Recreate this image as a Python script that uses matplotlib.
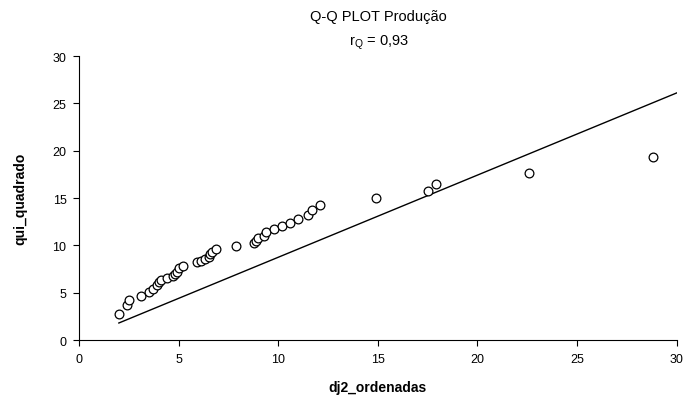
import matplotlib
matplotlib.use("Agg")
import matplotlib.pyplot as plt

plt.rcParams['font.family'] = ['Liberation Sans', 'DejaVu Sans']

# dados
dj2_ordenadas = [2.0, 2.4, 2.5, 3.1, 3.5, 3.7, 3.9, 4.0, 4.1, 4.4,
                 4.7, 4.8, 4.9, 5.0, 5.2, 5.9, 6.1, 6.3, 6.5, 6.6,
                 6.7, 6.9, 7.9, 8.8, 8.9, 9.0, 9.3, 9.4, 9.8, 10.2,
                 10.6, 11.0, 11.5, 11.7, 12.1, 14.9, 17.5, 17.9, 22.6, 28.8]
qui_quadrado = [2.8, 3.7, 4.2, 4.7, 5.1, 5.4, 5.8, 6.1, 6.3, 6.6,
                6.8, 7.0, 7.2, 7.6, 7.8, 8.2, 8.4, 8.6, 8.8, 9.1,
                9.3, 9.6, 9.9, 10.2, 10.5, 10.8, 11.0, 11.4, 11.7, 12.0,
                12.4, 12.8, 13.2, 13.7, 14.3, 15.0, 15.7, 16.5, 17.6, 19.3]
reta_x = [2.0, 30.0]
reta_y = [1.8, 26.1]

fig = plt.figure(figsize=(6.87, 4.06), dpi=100, facecolor="white")
ax = fig.add_axes([0.1150, 0.160, 0.870, 0.6996])

ax.plot(reta_x, reta_y, color="black", linewidth=1.0)
ax.plot(dj2_ordenadas, qui_quadrado, linestyle="none", marker="o",
        markersize=6.3, markerfacecolor="white", markeredgecolor="black",
        markeredgewidth=0.9)

ax.set_xlim(0, 30)
ax.set_ylim(0, 30)
ax.set_xticks(range(0, 31, 5))
ax.set_yticks(range(0, 31, 5))
ax.tick_params(direction="out", length=4, width=0.8, labelsize=9, pad=5)
for s in ["top", "right"]:
    ax.spines[s].set_visible(False)
for s in ["left", "bottom"]:
    ax.spines[s].set_linewidth(0.8)

ax.set_xlabel("dj2_ordenadas", fontsize=10, fontweight="bold", labelpad=11)
ax.set_ylabel("qui_quadrado", fontsize=10, fontweight="bold", labelpad=18)

fig.text(0.551, 0.957, "Q-Q PLOT Produção", ha="center", va="center", fontsize=10.5)
fig.text(0.551, 0.896, r"r$_\mathregular{Q}$ = 0,93", ha="center", va="center", fontsize=10.5)

fig.savefig("out.png", dpi=100)
